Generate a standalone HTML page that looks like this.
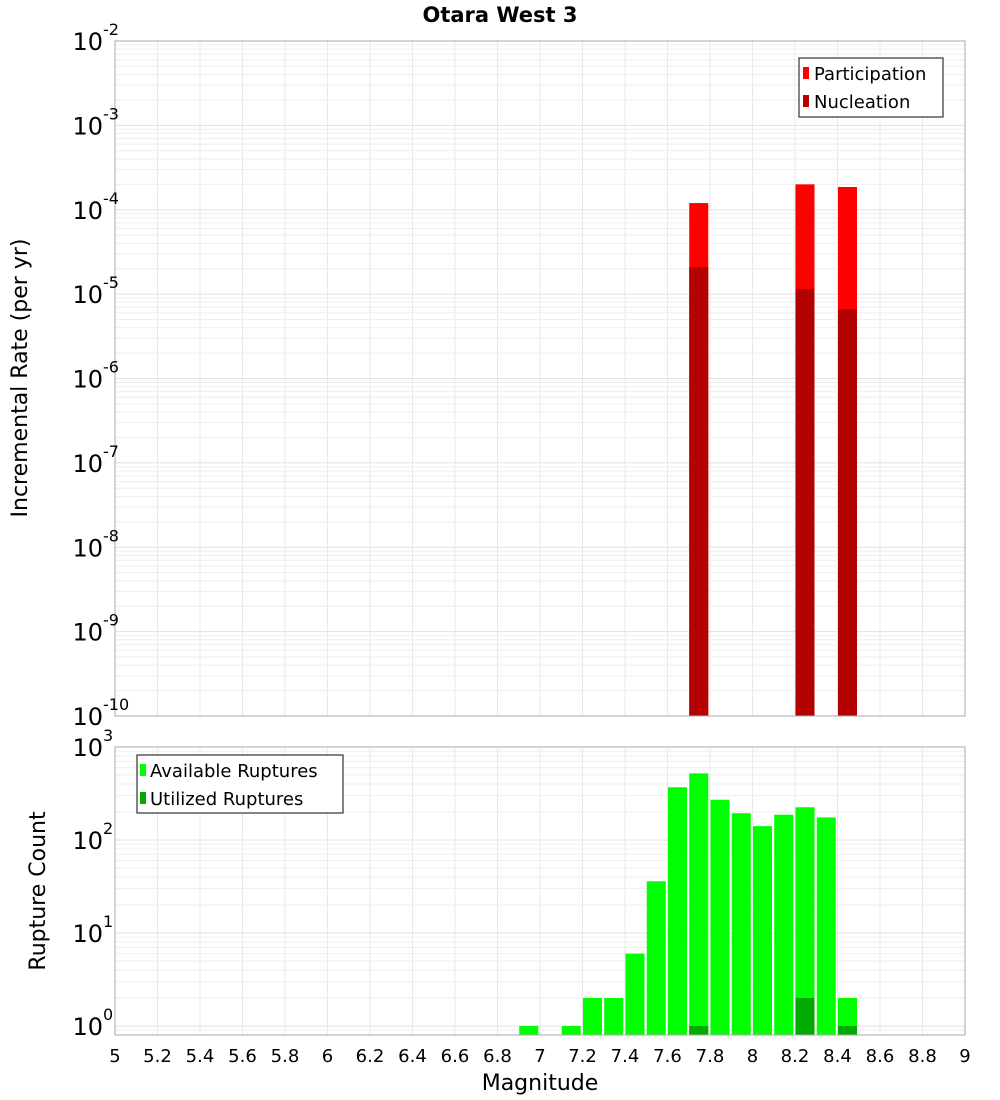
<!DOCTYPE html>
<html><head><meta charset="utf-8"><style>
body{margin:0;background:#fff;}
svg{display:block;font-family:"DejaVu Sans","Liberation Sans",sans-serif;}
</style></head><body>
<svg id="chart" width="1000" height="1100">
<text x="500" y="22" text-anchor="middle" font-size="21" font-weight="bold">Otara West 3</text>
<g id="topPlot"></g><g id="botPlot"></g><g id="xaxis"></g>
<text x="540" y="1090" text-anchor="middle" font-size="22">Magnitude</text>
<text transform="translate(27,378) rotate(-90)" text-anchor="middle" font-size="22">Incremental Rate (per yr)</text>
<text transform="translate(45,891) rotate(-90)" text-anchor="middle" font-size="22">Rupture Count</text>
<g>
<rect x="799" y="58" width="144" height="59" fill="#fff" stroke="#333" stroke-width="1.2"/>
<rect x="803" y="67" width="6" height="12" fill="#ff0000"/>
<text x="814" y="80" font-size="18">Participation</text>
<rect x="803" y="95" width="6" height="12" fill="#b30000"/>
<text x="814" y="108" font-size="18">Nucleation</text>
</g>
<g>
<rect x="137" y="755" width="206" height="58" fill="#fff" stroke="#333" stroke-width="1.2"/>
<rect x="140" y="764" width="6" height="12" fill="#00ff00"/>
<text x="150" y="777" font-size="18">Available Ruptures</text>
<rect x="140" y="792" width="6" height="12" fill="#00aa00"/>
<text x="150" y="805" font-size="18">Utilized Ruptures</text>
</g>
</svg>
<script>
const mags = [6.95,7.15,7.25,7.35,7.45,7.55,7.65,7.75,7.85,7.95,8.05,8.15,8.25,8.35,8.45];
const available = [1,1,2,2,6,36,369,521,271,194,141,187,225,175,2];
const utilizedMags = [7.75,8.25,8.45];
const utilized = [1,2,1];
const rateMags = [7.75,8.25,8.45];
const participation = [1.2e-4,2.0e-4,1.86e-4];
const nucleation = [2.1e-5,1.15e-5,6.6e-6];
const xTicks = [5,5.2,5.4,5.6,5.8,6,6.2,6.4,6.6,6.8,7,7.2,7.4,7.6,7.8,8,8.2,8.4,8.6,8.8,9];
const topExps = [-10,-9,-8,-7,-6,-5,-4,-3,-2];
const botExps = [0,1,2,3];

const NS="http://www.w3.org/2000/svg";
const L=115,R=965;
const X=m=>L+(m-5)*(R-L)/4;
const TT=41,TB=716, Yt=v=>TB-(Math.log10(v)+10)*(TB-TT)/8;
const BT=747,BB=1035, Yb=v=>1026-Math.log10(v)*93;
function el(p,tag,a){const e=document.createElementNS(NS,tag);for(const k in a)e.setAttribute(k,a[k]);p.appendChild(e);return e;}
const gTop=document.getElementById('topPlot'),gBot=document.getElementById('botPlot'),gX=document.getElementById('xaxis');

function grid(g,t,b,exps,Y){
  for(const m of xTicks){const l=el(g,'line',{x1:X(m),x2:X(m),y1:t,y2:b,stroke:'#e8e8e8'});
    
    }
  const all=[exps[0]-1].concat(exps);
  for(const e of all){for(let k=1;k<10;k++){const v=k*Math.pow(10,e);const y=Y(v);if(y<t-0.5||y>b)continue;
    const l=el(g,'line',{x1:L,x2:R,y1:y,y2:y,stroke:k==1?'#e0e0e0':'#eeeeee'});
    
    }}
}
function tickLabels(g,exps,Y,pre){
  for(const e of exps){const y=Y(Math.pow(10,e));
    const t=el(g,'text',{x:103,y:y+9,'text-anchor':'end','font-size':24});
    
    
    t.textContent='10';
    const s=el(g,'text',{x:103,y:y-6,'font-size':16});
    
    
    s.textContent=String(e);}
}
grid(gTop,TT,TB,topExps,Yt);
grid(gBot,BT,BB,botExps,Yb);

for(let i=0;i<rateMags.length;i++){const x=X(rateMags[i]-0.05)+0.5;
  const p=el(gTop,'rect',{x:x,y:Yt(participation[i]),width:19,height:TB-Yt(participation[i]),fill:'#ff0000'});
  
  
  const n=el(gTop,'rect',{x:x,y:Yt(nucleation[i]),width:19,height:TB-Yt(nucleation[i]),fill:'#b30000'});
  
  }
for(let i=0;i<mags.length;i++){const x=X(mags[i]-0.05)+0.5;
  const r=el(gBot,'rect',{x:x,y:Yb(available[i]),width:19,height:BB-Yb(available[i]),fill:'#00ff00'});
  
  }
for(let i=0;i<utilizedMags.length;i++){const x=X(utilizedMags[i]-0.05)+0.5;
  const r=el(gBot,'rect',{x:x,y:Yb(utilized[i]),width:19,height:BB-Yb(utilized[i]),fill:'#00aa00'});
  
  }

el(gTop,'rect',{x:L,y:TT,width:R-L,height:TB-TT,fill:'none',stroke:'#aaaaaa'});
el(gBot,'rect',{x:L,y:BT,width:R-L,height:BB-BT,fill:'none',stroke:'#aaaaaa'});
tickLabels(gTop,topExps,Yt,'top-y');
tickLabels(gBot,botExps,Yb,'bottom-y');
for(const m of xTicks){const t=el(gX,'text',{x:X(m),y:1062,'text-anchor':'middle','font-size':18});
  
  
  t.textContent=String(m);}
</script>
</body></html>
